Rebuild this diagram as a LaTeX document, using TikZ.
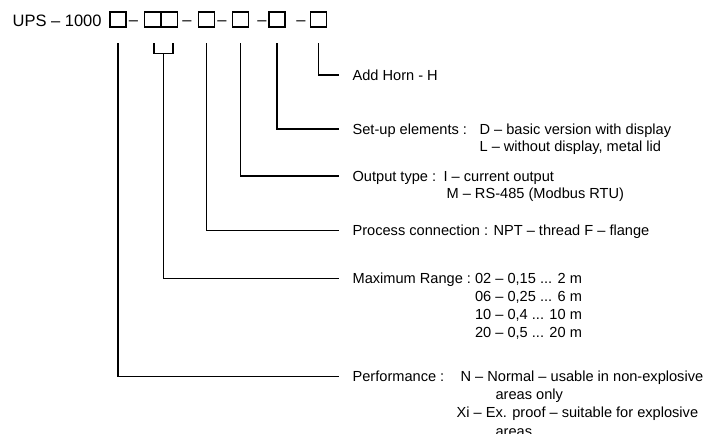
\documentclass[tikz,border=0pt]{standalone}
\usepackage{fontspec}
\setmainfont{Liberation Sans}
\usetikzlibrary{positioning, calc}

\begin{document}
\begin{tikzpicture}[x=0.5pt, y=-0.5pt, line width=0.6pt,
    cell/.style={draw, minimum width=8pt, minimum height=7.5pt, inner sep=0pt},
    sep/.style={anchor=base, inner sep=0pt, font=\fontsize{8.25}{9.9}\selectfont},
    lbl/.style={anchor=west, inner sep=0pt, text height=5.23pt, text depth=0pt, font=\fontsize{7.3}{8.75}\selectfont},
    ttl/.style={lbl, inner xsep=6.5pt}]
    \clip (0,0) rectangle (705,433);

    \node[sep, anchor=base west] (code) at (12,27) {UPS – 1000};
    \foreach \x/\n in {118/perfB, 152.5/rngA, 169.5/rngB, 206.5/connB, 240.5/outB, 277/setB, 318.5/hornB}
        \node[cell] (\n) at (\x,19.5) {};
    \foreach \x/\n in {133.5/d1, 187/d2, 222/d3, 262/d4, 301/d5}
        \node[sep] (\n) at (\x,26) {–};

    \node[ttl] (hornT) at (339,75) {Add Horn - H};
    \node[ttl] (setT) at (339,129) {Set-up elements :};
    \node[lbl] (setD) at (479,129) {D – basic version with display};
    \node[lbl] (setL) at (479,146.5) {L – without display, metal lid};
    \node[ttl] (outT) at (339,176) {Output type :};
    \node[lbl] (outI) at (443,176) {I – current output};
    \node[lbl] (outM) at (446,193.5) {M – RS-485 (Modbus RTU)};
    \node[ttl] (connT) at (339,230.3) {Process connection : NPT – thread F – flange};
    \node[ttl] (rngT) at (339,278.7) {Maximum Range :};
    \node[lbl] (rng02) at (474.5,278.7) {02 – 0,15 ... 2 m};
    \node[lbl] (rng06) at (474.5,296.4) {06 – 0,25 ... 6 m};
    \node[lbl] (rng10) at (474.5,314.1) {10 – 0,4 ... 10 m};
    \node[lbl] (rng20) at (474.5,331.8) {20 – 0,5 ... 20 m};
    \node[ttl] (perfT) at (339,376.7) {Performance :};
    \node[lbl] (perfN) at (460,376.7) {N – Normal – usable in non-explosive};
    \node[lbl] (perfN2) at (495,394.7) {areas only};
    \node[lbl] (perfX) at (456,412.7) {Xi – Ex. proof – suitable for explosive};
    \node[lbl] (perfX2) at (495,431.5) {areas};

    \draw ($(hornB.south)+(0,15.7)$) |- (hornT.west);
    \draw ($(setB.south)+(0,15.7)$) |- (setT.west);
    \draw ($(outB.south)+(0,15.7)$) |- (outT.west);
    \draw ($(connB.south)+(0,15.7)$) |- (connT.west);
    \draw ($(rngA.south)+(1.5,15.7)$) -- ++(0,10) -| ($(rngB.south)+(3.5,15.7)$);
    \draw ($(rngA.south)!0.5!(rngB.south)+(2.5,25.7)$) |- (rngT.west);
    \draw ($(perfB.south)+(0,15.7)$) |- (perfT.west);
\end{tikzpicture}
\end{document}
